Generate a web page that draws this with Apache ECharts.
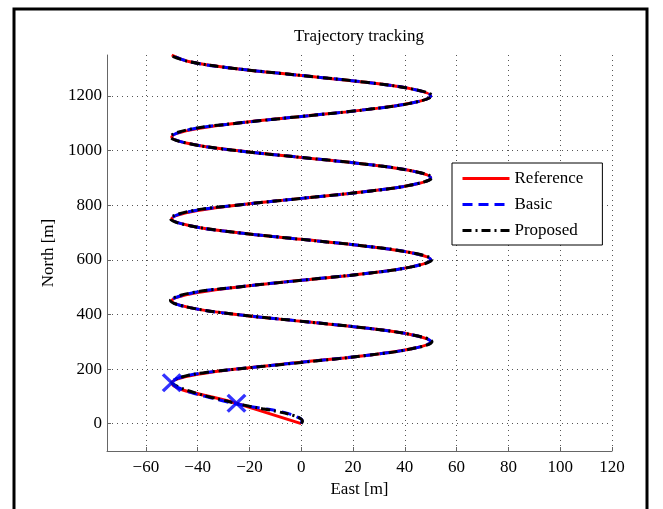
<!DOCTYPE html>
<html>
<head>
<meta charset="utf-8">
<title>Trajectory tracking</title>
<script src="https://cdn.jsdelivr.net/npm/echarts@6/dist/echarts.min.js"></script>
<style>
  html, body { margin: 0; padding: 0; background: #fff; }
  #chart { width: 663px; height: 509px; }
</style>
</head>
<body>
<div id="chart"></div>
<script>
// Axis tick positions
const xTicks = [-60, -40, -20, 0, 20, 40, 60, 80, 100, 120];
const yTicks = [0, 200, 400, 600, 800, 1000, 1200];

// Reference path (East, North) in metres
const refNorth = [0, 75, 150, 175, 200, 225, 250, 275, 300, 325, 350, 375, 400, 425, 450,
  475, 500, 525, 550, 575, 600, 625, 650, 675, 700, 725, 750, 775, 800, 825, 850, 875, 900,
  925, 950, 975, 1000, 1025, 1050, 1075, 1100, 1125, 1150, 1175, 1200, 1225, 1250, 1275,
  1300, 1325, 1350];
const refEast = [0, -25, -50, -43, -25, 0, 25, 43, 50, 43, 25, 0, -25, -43, -50,
  -43, -25, 0, 25, 43, 50, 43, 25, 0, -25, -43, -50, -43, -25, 0, 25, 43, 50,
  43, 25, 0, -25, -43, -50, -43, -25, 0, 25, 43, 50, 43, 25, 0,
  -25, -43, -50];

// Basic controller path
const basicNorth = [0, 12, 24, 34, 47, 56, 63, 72, 83, 95, 107, 118, 130, 141, 150,
  158, 168, 180, 192, 205, 225, 250, 275, 300, 325, 350, 375, 400, 425, 450,
  477, 500, 525, 550, 575, 600, 625, 650, 675, 700, 725, 750, 777, 800, 825, 850, 875, 900,
  925, 950, 975, 1000, 1025, 1050, 1077, 1100, 1125, 1150, 1175, 1200, 1225, 1250, 1275,
  1300, 1325, 1350];
const basicEast = [0, 0.3, -1.5, -4, -9.3, -15, -20, -25, -30, -35, -40, -44, -47, -49.3, -50,
  -49.5, -47, -42, -33, -20, 0, 25, 43, 50, 43, 25, 0, -25, -43, -50,
  -43, -25, 0, 25, 43, 50, 43, 25, 0, -25, -43, -50, -43, -25, 0, 25, 43, 50,
  43, 25, 0, -25, -43, -50, -43, -25, 0, 25, 43, 50, 43, 25, 0,
  -25, -43, -50];

// Proposed controller path
const propNorth = [0, 10, 20, 30, 44, 55, 64, 74, 86, 97, 110, 122, 133, 145, 152,
  163, 174, 186, 200, 224, 250, 275, 300, 325, 350, 375, 400, 425, 451,
  478, 500, 525, 550, 575, 601, 625, 650, 675, 700, 725, 751, 778, 800, 825, 850, 875, 901,
  925, 950, 975, 1000, 1025, 1051, 1078, 1100, 1125, 1150, 1175, 1201, 1225, 1250, 1275,
  1300, 1325, 1348];
const propEast = [0, 0.5, -0.5, -3, -9, -15, -20, -25, -30, -35, -40, -44, -47, -49.5, -50,
  -48.5, -45, -38, -25, 0, 25, 43, 50.5, 43, 25, 0, -25, -43, -50.5,
  -43, -25, 0, 25, 43, 50.5, 43, 25, 0, -25, -43, -50.5, -43, -25, 0, 25, 43, 50.5,
  43, 25, 0, -25, -43, -50.5, -43, -25, 0, 25, 43, 50.5, 43, 25, 0,
  -25, -43, -50.5];

// Waypoints marked with crosses
const wpEast = [-50, -25];
const wpNorth = [150, 75];

const zip = (xs, ys) => xs.map((x, i) => [x, ys[i]]);

const FONT = "'Liberation Serif', 'Times New Roman', serif";
const textBase = { fontFamily: FONT, fontSize: 17, color: '#000' };
const minus = v => (v < 0 ? '\u2212' + Math.abs(v) : String(v));

// Thick "x" cross drawn as a filled outline
const crossPath = 'path://M0,2.4L2.4,0L10,7.6L17.6,0L20,2.4L12.4,10L20,17.6L17.6,20L10,12.4L2.4,20L0,17.6L7.6,10Z';

const chart = echarts.init(document.getElementById('chart'), null, { renderer: 'canvas' });

chart.setOption({
  animation: false,
  backgroundColor: '#fff',
  title: {
    text: 'Trajectory tracking',
    left: 359,
    top: 28,
    textAlign: 'center',
    padding: 0,
    textStyle: Object.assign({}, textBase, { fontWeight: 'normal' })
  },
  graphic: [{
    type: 'rect',
    shape: { x: 14, y: 9, width: 633, height: 520 },
    style: { fill: 'none', stroke: '#000', lineWidth: 3 },
    silent: true,
    z: 100
  }],
  legend: {
    orient: 'vertical',
    left: 452,
    top: 163,
    padding: [7, 19, 6, 9],
    itemWidth: 47,
    itemHeight: 16,
    itemGap: 9,
    borderColor: '#000',
    borderWidth: 1,
    backgroundColor: '#fff',
    itemStyle: { opacity: 0 },
    lineStyle: { width: 3 },
    textStyle: Object.assign({}, textBase, { lineHeight: 16 }),
    data: ['Reference', 'Basic', 'Proposed']
  },
  grid: { left: 107, top: 55, width: 505, height: 396, containLabel: false },
  xAxis: {
    type: 'value',
    min: -75,
    max: 120,
    name: 'East [m]',
    nameLocation: 'middle',
    nameGap: 30,
    nameTextStyle: textBase,
    axisLine: { show: true, onZero: false, lineStyle: { color: '#666', width: 1 } },
    axisTick: { show: true, inside: true, length: 4, customValues: xTicks, lineStyle: { color: '#666' } },
    axisLabel: Object.assign({ customValues: xTicks, margin: 8, formatter: minus }, textBase),
    splitLine: { show: true, lineStyle: { type: [1, 4], color: '#555', width: 1 } }
  },
  yAxis: {
    type: 'value',
    min: -100,
    max: 1350,
    name: 'North [m]',
    nameLocation: 'middle',
    nameGap: 45,
    nameTextStyle: textBase,
    axisLine: { show: true, onZero: false, lineStyle: { color: '#666', width: 1 } },
    axisTick: { show: true, inside: true, length: 4, customValues: yTicks, lineStyle: { color: '#666' } },
    axisLabel: Object.assign({ customValues: yTicks, margin: 5, formatter: minus }, textBase),
    splitLine: { show: true, lineStyle: { type: [1, 4], color: '#555', width: 1 } }
  },
  series: [
    {
      name: 'Reference',
      type: 'line',
      data: zip(refEast, refNorth),
      symbol: 'none',
      smooth: 0.4,
      lineStyle: { color: '#ff0000', width: 3 },
      itemStyle: { color: '#ff0000' },
      z: 2
    },
    {
      name: 'Basic',
      type: 'line',
      data: zip(basicEast, basicNorth),
      symbol: 'none',
      smooth: 0.4,
      lineStyle: { color: '#0000ff', width: 3, type: [10, 6] },
      itemStyle: { color: '#0000ff' },
      z: 3
    },
    {
      name: 'Proposed',
      type: 'line',
      data: zip(propEast, propNorth),
      symbol: 'none',
      smooth: 0.4,
      lineStyle: { color: '#000000', width: 3, type: [9, 4, 2, 4] },
      itemStyle: { color: '#000000' },
      z: 4
    },
    {
      name: 'Waypoints',
      type: 'scatter',
      data: zip(wpEast, wpNorth),
      symbol: crossPath,
      symbolSize: [20, 19],
      itemStyle: { color: '#0000ff' },
      silent: true,
      z: 5
    }
  ]
});
</script>
</body>
</html>
